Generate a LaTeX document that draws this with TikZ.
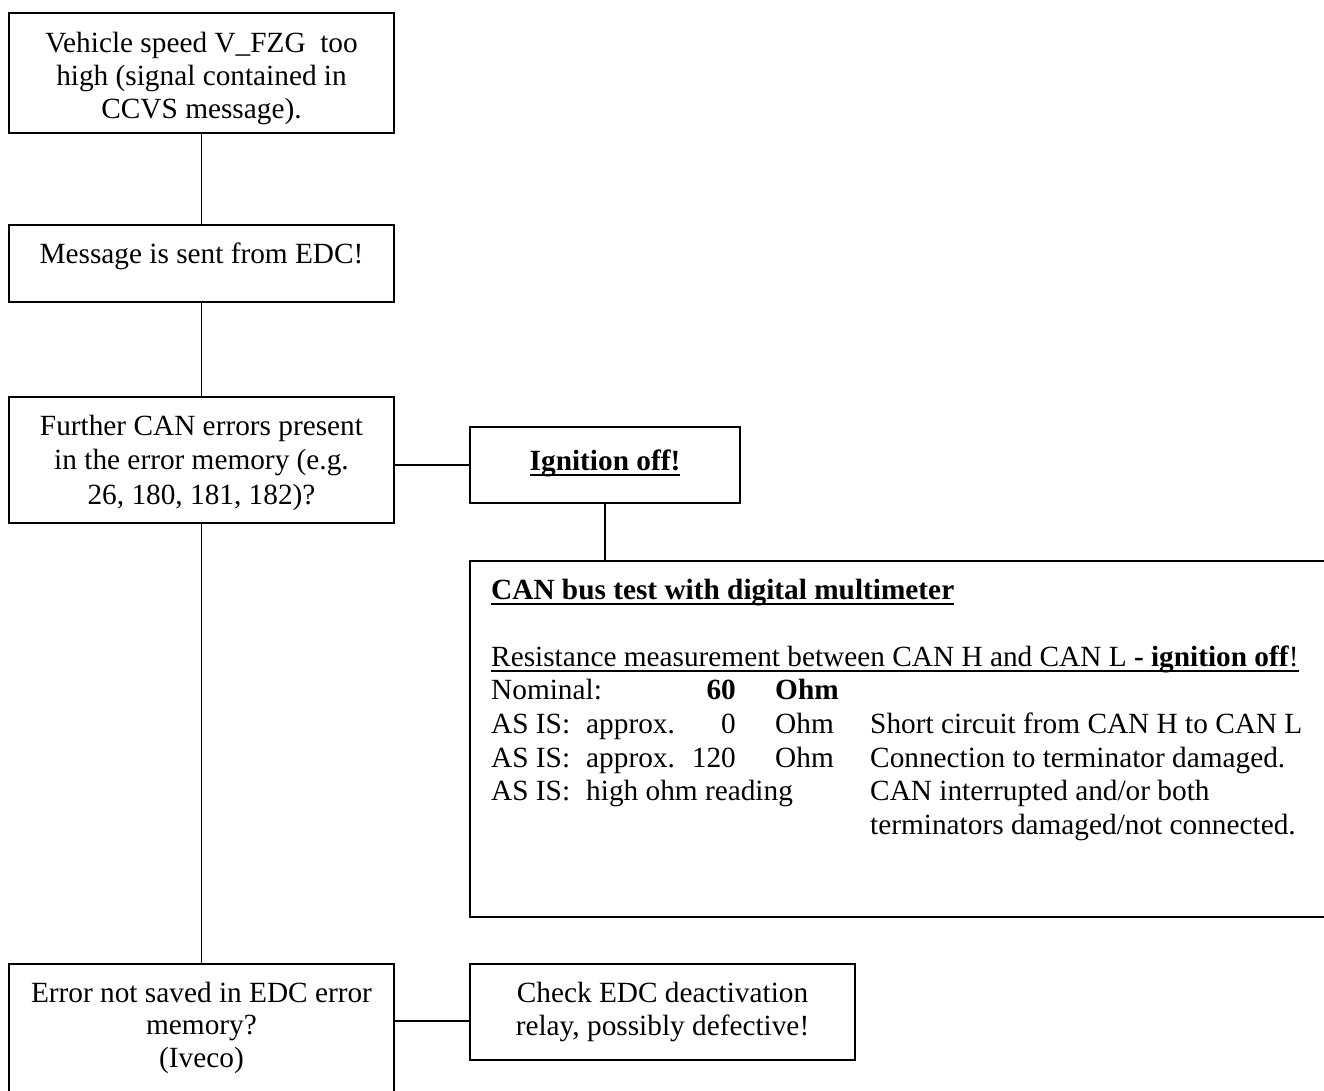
\documentclass[tikz,border=0pt]{standalone}
\usepackage{fontspec}
\setmainfont{Liberation Serif}
\newcommand{\bigfs}[1]{\fontsize{29.3}{#1}\selectfont}
\newcommand{\topstrut}{\rule{0pt}{22pt}}
\begin{document}
\begin{tikzpicture}[x=1pt,y=-1pt,
  box/.style={draw=black, rectangle, inner sep=0pt, line width=1.8pt},
  txt/.style={inner sep=0pt, align=center, anchor=north},
  ltxt/.style={inner sep=0pt, anchor=base west, font=\bigfs{33.5}},
  rtxt/.style={inner sep=0pt, anchor=base east, font=\bigfs{33.5}},
  conn/.style={draw=black, line width=1.8pt},
  uline/.style={draw=black, line width=1.7pt}]
\useasboundingbox (0,0) rectangle (1324,1090);
\clip (0,0) rectangle (1324,1090);
\fill[white] (0,0) rectangle (1324,1090);

% boxes
\node[box, minimum width=385pt, minimum height=120pt] (b1) at (201.5,73) {};
\node[box, minimum width=385pt, minimum height=77pt] (b2) at (201.5,263.5) {};
\node[box, minimum width=385pt, minimum height=126pt] (b3) at (201.5,460) {};
\node[box, minimum width=270pt, minimum height=76pt] (ign) at (605,465) {};
\node[box, minimum width=874pt, minimum height=356pt] (can) at (907,739) {};
\node[box, minimum width=385pt, minimum height=146pt] (b4) at (201.5,1037) {};
\node[box, minimum width=385pt, minimum height=96pt] (b5) at (662.5,1012) {};

% connectors
\coordinate (j2) at (432,1021);
\draw[conn] (b1.south) -- (b2.north);
\draw[conn] (b2.south) -- (b3.north);
\draw[conn] (b3.south) -- (b4.north);
\draw[conn] (b3.east |- ign.west) -- (ign.west);
\draw[conn] (ign.south) -- (ign.south |- can.north);
\draw[conn] (b4.east |- j2) -- (b5.west |- j2);

% box texts
\node[txt, font=\bigfs{33}] (t1) at (201.5,30)
  {\topstrut Vehicle speed V\_FZG\ \ too\\high (signal contained in\\CCVS message).};
\node[txt, font=\bigfs{33}] (t2) at (201.5,241)
  {\topstrut Message is sent from EDC!};
\node[txt, font=\bigfs{34.5}] (t3) at (201.5,413)
  {\topstrut Further CAN errors present\\in the error memory (e.g.\\26, 180, 181, 182)?};
\node[inner sep=0pt, anchor=base, font=\bigfs{33}] (ti) at (605,470)
  {\textbf{Ignition off!}};
\draw[uline] ([yshift=-4.8pt]ti.base west) -- ([yshift=-4.8pt]ti.base east);
\node[txt, font=\bigfs{32.5}] (t4) at (201.5,980)
  {\topstrut Error not saved in EDC error\\memory?\\(Iveco)};
\node[txt, font=\bigfs{33}] (t5) at (662.5,980)
  {\topstrut Check EDC deactivation\\relay, possibly defective!};

% CAN bus test box contents
\node[ltxt] (h1) at (491,599) {\textbf{CAN bus test with digital multimeter}};
\draw[uline] ([yshift=-4.8pt]h1.base west) -- ([yshift=-4.8pt]h1.base east);
\node[ltxt] (h2) at (491,666) {Resistance measurement between CAN H and CAN L \textbf{- ignition off}!};
\draw[uline] ([yshift=-4.8pt]h2.base west) -- ([yshift=-4.8pt]h2.base east);

\node[ltxt] (r1a) at (491,699) {Nominal:};
\node[rtxt] (r1b) at (736,699) {\textbf{60}};
\node[ltxt] (r1c) at (775,699) {\textbf{Ohm}};

\node[ltxt] (r2a) at (491,733) {AS IS:};
\node[ltxt] (r2b) at (586,733) {approx.};
\node[rtxt] (r2c) at (736,733) {0};
\node[ltxt] (r2d) at (775,733) {Ohm};
\node[ltxt] (r2e) at (870,733) {Short circuit from CAN H to CAN L};

\node[ltxt] (r3a) at (491,767) {AS IS:};
\node[ltxt] (r3b) at (586,767) {approx.};
\node[rtxt] (r3c) at (736,767) {120};
\node[ltxt] (r3d) at (775,767) {Ohm};
\node[ltxt] (r3e) at (870,767) {Connection to terminator damaged.};

\node[ltxt] (r4a) at (491,800) {AS IS:};
\node[ltxt] (r4b) at (586,800) {high ohm reading};
\node[ltxt] (r4e) at (870,800) {CAN interrupted and/or both};
\node[ltxt] (r5e) at (870,834) {terminators damaged/not connected.};
\end{tikzpicture}
\end{document}
